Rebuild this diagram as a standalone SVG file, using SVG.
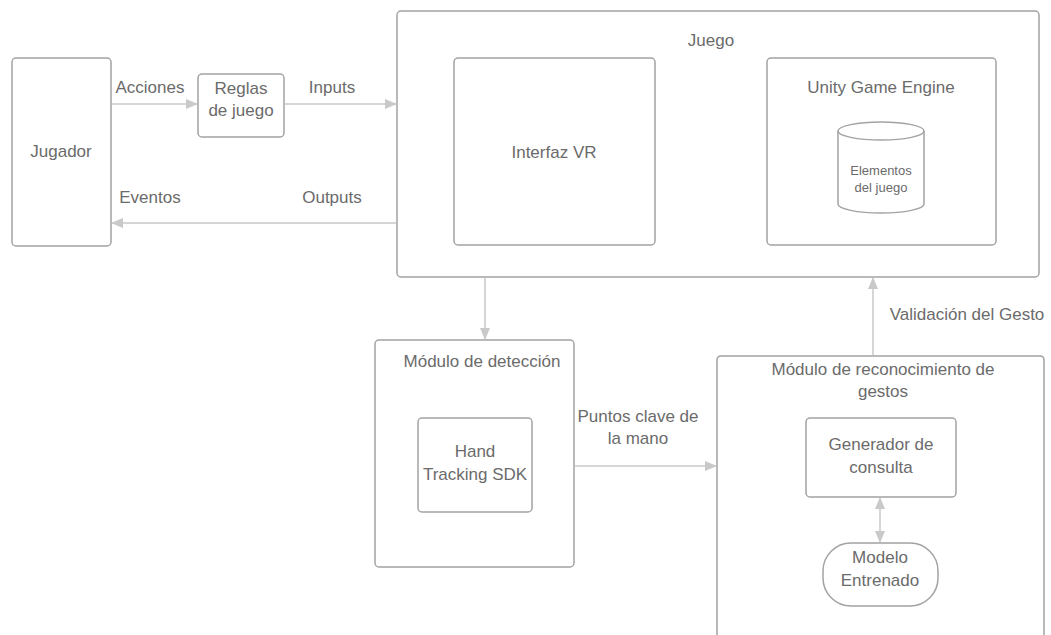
<svg xmlns="http://www.w3.org/2000/svg" width="1051" height="635" viewBox="0 0 1051 635">
  <defs>
    <marker id="arrow" viewBox="0 0 12 10" refX="11" refY="5" markerWidth="12" markerHeight="10" markerUnits="userSpaceOnUse" orient="auto-start-reverse">
      <path d="M0,0 L12,5 L0,10 z" fill="#c9c9c9"/>
    </marker>
    <style>
      .box { fill: #ffffff; stroke: #a3a3a3; stroke-width: 1.5; }
      .lbl { font-family: "Liberation Sans", Arial, sans-serif; font-size: 17px; fill: #6b6b6b; text-anchor: middle; }
      .small { font-size: 13px; }
      .conn { stroke: #c9c9c9; stroke-width: 1.5; fill: none; }
    </style>
  </defs>
  <rect width="1051" height="635" fill="#ffffff"/>

  <g id="jugador">
    <rect class="box" x="12" y="58" width="99" height="188" rx="4"/>
    <text class="lbl" x="61" y="157">Jugador</text>
  </g>

  <g id="reglas">
    <rect class="box" x="198" y="74" width="86" height="63" rx="4"/>
    <text class="lbl" x="241" y="94">Reglas</text>
    <text class="lbl" x="241" y="116">de juego</text>
  </g>

  <g id="juego">
    <rect class="box" x="397" y="11" width="642" height="266" rx="4"/>
    <text class="lbl" x="711" y="46">Juego</text>
  </g>

  <g id="interfaz-vr">
    <rect class="box" x="454" y="58" width="201" height="187" rx="4"/>
    <text class="lbl" x="554" y="158">Interfaz VR</text>
  </g>

  <g id="unity">
    <rect class="box" x="767" y="58" width="229" height="187" rx="4"/>
    <text class="lbl" x="881" y="93">Unity Game Engine</text>
  </g>

  <g id="elementos">
    <path class="box" d="M838,131 L838,204 A43,9 0 0 0 924,204 L924,131 A43,9 0 0 0 838,131 Z"/>
    <path class="box" style="fill:none" d="M838,131 A43,9 0 0 0 924,131"/>
    <text class="lbl small" x="881" y="175">Elementos</text>
    <text class="lbl small" x="881" y="192">del juego</text>
  </g>

  <g id="deteccion">
    <rect class="box" x="375" y="340" width="199" height="227" rx="4"/>
    <text class="lbl" x="482" y="367">Módulo de detección</text>
  </g>

  <g id="hand-tracking">
    <rect class="box" x="418" y="418" width="114" height="94" rx="4"/>
    <text class="lbl" x="475" y="457">Hand</text>
    <text class="lbl" x="475" y="480">Tracking SDK</text>
  </g>

  <g id="reconocimiento">
    <path class="box" d="M717,640 L717,360 Q717,356 721,356 L1040,356 Q1044,356 1044,360 L1044,640"/>
    <text class="lbl" x="883" y="375">Módulo de reconocimiento de</text>
    <text class="lbl" x="883" y="397">gestos</text>
  </g>

  <g id="generador">
    <rect class="box" x="806" y="418" width="150" height="79" rx="4"/>
    <text class="lbl" x="881" y="450">Generador de</text>
    <text class="lbl" x="881" y="473">consulta</text>
  </g>

  <g id="modelo">
    <rect class="box" x="823" y="543" width="115" height="63" rx="28"/>
    <text class="lbl" x="880" y="563">Modelo</text>
    <text class="lbl" x="880" y="586">Entrenado</text>
  </g>

  <g id="connectors">
    <line class="conn" x1="112" y1="104" x2="197" y2="104" marker-end="url(#arrow)"/>
    <line class="conn" x1="285" y1="104" x2="396" y2="104" marker-end="url(#arrow)"/>
    <line class="conn" x1="396" y1="223" x2="112" y2="223" marker-end="url(#arrow)"/>
    <line class="conn" x1="485" y1="278" x2="485" y2="339" marker-end="url(#arrow)"/>
    <line class="conn" x1="575" y1="466" x2="716" y2="466" marker-end="url(#arrow)"/>
    <line class="conn" x1="873" y1="355" x2="873" y2="278" marker-end="url(#arrow)"/>
    <line class="conn" x1="880" y1="498" x2="880" y2="542" marker-start="url(#arrow)" marker-end="url(#arrow)"/>

    <text class="lbl" x="150" y="93">Acciones</text>
    <text class="lbl" x="332" y="93">Inputs</text>
    <text class="lbl" x="150" y="203">Eventos</text>
    <text class="lbl" x="332" y="203">Outputs</text>
    <text class="lbl" x="638" y="422">Puntos clave de</text>
    <text class="lbl" x="638" y="444">la mano</text>
    <text class="lbl" x="967" y="320">Validación del Gesto</text>
  </g>
</svg>
